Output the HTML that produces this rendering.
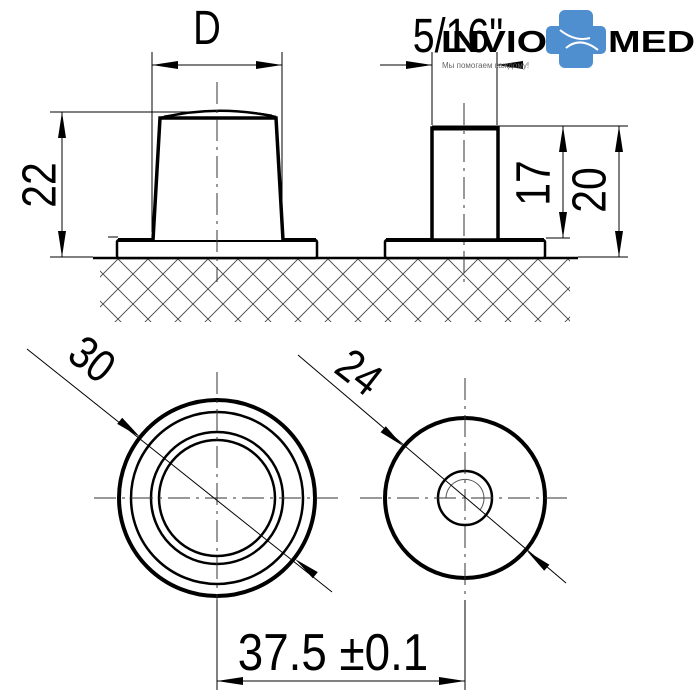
<!DOCTYPE html>
<html><head><meta charset="utf-8"><style>
html,body{margin:0;padding:0;background:#fff;}
svg{display:block;}
text{font-family:"Liberation Sans",sans-serif;}
</style></head><body>
<svg width="700" height="700" viewBox="0 0 700 700" xmlns="http://www.w3.org/2000/svg">
<defs>
<pattern id="hp" width="30" height="30" patternUnits="userSpaceOnUse" x="103" y="244">
<path d="M0,0 L30,30 M30,0 L0,30" stroke="#444" stroke-width="0.9"/>
</pattern>
</defs>
<rect x="100" y="258" width="470" height="64" fill="url(#hp)"/>
<line x1="93" y1="258" x2="578" y2="258" stroke="#000" stroke-width="2.5"/>

<g fill="none" stroke="#000">
<rect x="117" y="240" width="200" height="18" rx="2" stroke-width="2.5" fill="#fff"/>
<line x1="118" y1="240" x2="316" y2="240" stroke-width="4"/>
<path d="M153,240 L160,118 L276,118 L283,240" stroke-width="3.5" fill="#fff"/>
<path d="M160,118 Q218,104 276,117" stroke-width="2.5"/>
<path d="M164,116 Q218,106 272,115" stroke-width="1"/>
<rect x="385" y="240" width="160" height="18" rx="2" stroke-width="2.5" fill="#fff"/>
<line x1="386" y1="240" x2="544" y2="240" stroke-width="4"/>
<rect x="432" y="128" width="66" height="112" stroke-width="3.5" fill="#fff"/>
<line x1="432" y1="128" x2="498" y2="128" stroke-width="5"/>
</g>

<g stroke="#333" stroke-width="1" stroke-dasharray="22,6,3,6">
<line x1="217" y1="82" x2="217" y2="282"/>
<line x1="464" y1="103" x2="464" y2="282"/>
</g>

<g stroke="#000" stroke-width="1" fill="none">
<line x1="152" y1="52" x2="152" y2="232"/>
<line x1="282" y1="52" x2="282" y2="232"/>
<line x1="152" y1="65" x2="282" y2="65"/>
<line x1="432" y1="52" x2="432" y2="125"/>
<line x1="497" y1="52" x2="497" y2="125"/>
<line x1="380" y1="65" x2="432" y2="65"/>
<line x1="520" y1="65" x2="497" y2="65"/>
<line x1="50" y1="112" x2="200" y2="112"/>
<line x1="50" y1="257" x2="93" y2="257"/>
<line x1="62" y1="112" x2="62" y2="257"/>
<line x1="108" y1="237" x2="118" y2="237"/>
<line x1="498" y1="126" x2="628" y2="126"/>
<line x1="546" y1="238" x2="570" y2="238"/>
<line x1="578" y1="257" x2="628" y2="257"/>
<line x1="563" y1="126" x2="563" y2="238"/>
<line x1="619" y1="126" x2="619" y2="257"/>
</g>
<g fill="#000">
<path d="M152,65 l26,-4 v8 z"/><path d="M282,65 l-26,-4 v8 z"/>
<path d="M432,65 l-26,-4 v8 z"/><path d="M497,65 l26,-4 v8 z"/>
<path d="M62,112 l-4,26 h8 z"/><path d="M62,257 l-4,-26 h8 z"/>
<path d="M563,126 l-4,26 h8 z"/><path d="M563,238 l-4,-26 h8 z"/>
<path d="M619,126 l-4,26 h8 z"/><path d="M619,257 l-4,-26 h8 z"/>
</g>
<g font-size="48" fill="#000">
<text x="207" y="44" text-anchor="middle" transform="translate(207 0) scale(0.8 1) translate(-207 0)">D</text>
<text x="45" y="185" text-anchor="middle" transform="rotate(-90 45 185) translate(45 0) scale(0.85 1) translate(-45 0)" dominant-baseline="middle" dy="-2">22</text>
<text x="537" y="183" text-anchor="middle" transform="rotate(-90 537 183) translate(537 0) scale(0.85 1) translate(-537 0)" dominant-baseline="middle">17</text>
<text x="593" y="190" text-anchor="middle" transform="rotate(-90 593 190) translate(593 0) scale(0.85 1) translate(-593 0)" dominant-baseline="middle">20</text>
<text x="458" y="52" text-anchor="middle" transform="translate(458 0) scale(0.82 1) translate(-458 0)">5/16"</text>
</g>

<text x="441" y="52" font-size="31" font-weight="bold" fill="#000" textLength="106" lengthAdjust="spacingAndGlyphs">INVIO</text>
<text x="608" y="52" font-size="31" font-weight="bold" fill="#000" textLength="87" lengthAdjust="spacingAndGlyphs">MED</text>
<path d="M565,10 h22 a6,6 0 0 1 6,6 v10 h8 a5,5 0 0 1 5,5 v18 a5,5 0 0 1 -5,5 h-8 v8 a6,6 0 0 1 -6,6 h-22 a6,6 0 0 1 -6,-6 v-8 h-8 a5,5 0 0 1 -5,-5 v-18 a5,5 0 0 1 5,-5 h8 v-10 a6,6 0 0 1 6,-6 z" fill="#4f8fd0"/>
<path d="M560,30 Q575,42 590,38 M566,48 Q580,36 598,50" stroke="#fff" stroke-width="2" fill="none"/>
<text x="442" y="68" font-size="8" fill="#666">Мы помогаем каждому!</text>

<g fill="none" stroke="#000">
<circle cx="217" cy="498" r="98" stroke-width="4"/>
<circle cx="217" cy="498" r="86" stroke-width="2.5"/>
<circle cx="217" cy="498" r="66" stroke-width="2.5"/>
<circle cx="217" cy="498" r="58" stroke-width="2.5"/>
<circle cx="465" cy="498" r="80" stroke-width="4"/>
<circle cx="465" cy="498" r="27" stroke-width="2.5"/>
<path d="M446,498 A19,19 0 1 1 480,510" stroke-width="1" stroke="#555"/>
</g>
<g stroke="#333" stroke-width="1" stroke-dasharray="22,6,3,6" fill="none">
<line x1="94" y1="498" x2="340" y2="498"/>
<line x1="217" y1="372" x2="217" y2="690"/>
<line x1="360" y1="498" x2="570" y2="498"/>
<line x1="465" y1="378" x2="465" y2="690"/>
</g>
<g stroke="#000" stroke-width="1" fill="none">
<line x1="27" y1="349" x2="332" y2="592"/>
<line x1="298" y1="355" x2="566" y2="583"/>
<line x1="217" y1="681" x2="465" y2="681"/>
<line x1="217" y1="600" x2="217" y2="690"/>
<line x1="465" y1="600" x2="465" y2="690"/>
</g>
<g fill="#000">
<path d="M140,437 L122.2,417.7 L117.2,423.9 z"/>
<path d="M295,559 L312.8,578.3 L317.8,572.1 z"/>
<path d="M403,446 L380.6,432.2 L385.8,426.2 z"/>
<path d="M527,551 L544.2,570.8 L549.4,564.8 z"/>
<path d="M217,681 l26,-4 v8 z"/><path d="M465,681 l-26,-4 v8 z"/>
</g>
<g font-size="46" fill="#000">
<text x="90" y="362" text-anchor="middle" dominant-baseline="middle" transform="rotate(38 90 362) translate(90 0) scale(0.85 1) translate(-90 0)">30</text>
<text x="357" y="375" text-anchor="middle" dominant-baseline="middle" transform="rotate(38 357 375) translate(357 0) scale(0.85 1) translate(-357 0)">24</text>
<text x="333" y="670" text-anchor="middle" font-size="52" transform="translate(333 0) scale(0.88 1) translate(-333 0)">37.5 ±0.1</text>
</g>
</svg>
</body></html>
